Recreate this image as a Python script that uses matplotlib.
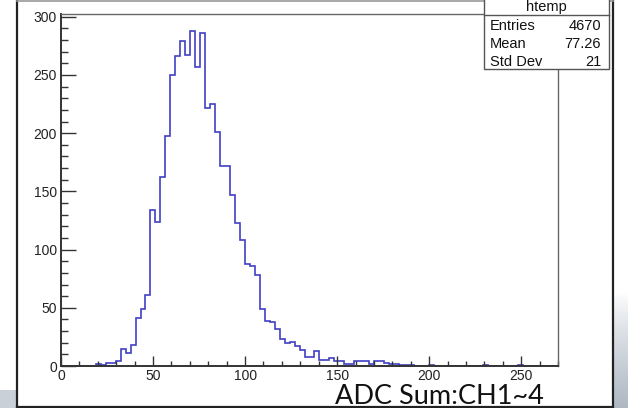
import numpy as np
import matplotlib
matplotlib.use("Agg")
import matplotlib.pyplot as plt
from matplotlib.lines import Line2D
from matplotlib.patches import Rectangle

# histogram contents (100 bins, 0 .. 270)
bin_edges = np.linspace(0, 270, 101)
counts = [0, 0, 0, 0, 0, 0, 0, 2, 1, 3,
          3, 4, 15, 11, 18, 41, 49, 61, 134, 124,
          162, 198, 250, 266, 279, 267, 288, 257, 286, 222,
          225, 201, 172, 172, 147, 123, 108, 88, 86, 78,
          49, 39, 38, 32, 23, 20, 21, 17, 14, 8,
          8, 13, 5, 5, 7, 4, 4, 2, 2, 4,
          4, 4, 2, 4, 4, 3, 2, 2, 1, 1,
          1, 0, 0, 0, 1, 0, 0, 0, 0, 0,
          0, 0, 0, 0, 0, 1, 0, 0, 0, 0,
          0, 0, 1, 0, 0, 0, 0, 0, 0, 0]

x_ticks = [0, 50, 100, 150, 200, 250]
y_ticks = [0, 50, 100, 150, 200, 250, 300]

stats_title = "htemp"
stats_names = ["Entries", "Mean", "Std Dev"]
stats_values = ["4670", "77.26", "21"]
caption = "ADC Sum:CH1~4"

W, H = 628, 408
fig = plt.figure(figsize=(W / 100, H / 100), dpi=100)
fig.patch.set_facecolor("white")

# slide background peeking out at the right edge and bottom-left corner
bg = fig.add_axes([613 / W, 0, 15 / W, 1])
grad = np.linspace(0, 1, 200)[:, None]
grad = np.clip((grad - 0.72) / 0.28, 0, 1) ** 0.8
bg.imshow(grad, aspect="auto", cmap=matplotlib.colors.LinearSegmentedColormap.from_list(
    "slide", ["#ffffff", "#aeb8c4"]), extent=[0, 1, 0, 1], origin="upper")
bg.axis("off")
fig.add_artist(Rectangle((0, 0), 17 / W, 18 / H, transform=fig.transFigure,
                         facecolor="#c9d0d8", edgecolor="none"))

# canvas frame
frame_kw = dict(transform=fig.transFigure, color="#222222", lw=1.6)
fig.add_artist(Line2D([17 / W, 17 / W], [0.5 / H, 1], **frame_kw))
fig.add_artist(Line2D([613 / W, 613 / W], [0.5 / H, 1], **frame_kw))
fig.add_artist(Line2D([17 / W, 613 / W], [1.0 / H, 1.0 / H], **frame_kw))
fig.add_artist(Line2D([17 / W, 613 / W], [1 - 1 / H, 1 - 1 / H],
                      transform=fig.transFigure, color="#999999", lw=1.2))

ax = fig.add_axes([61 / W, (H - 366) / H, (558 - 61) / W, (366 - 14) / H])
ax.stairs(counts, bin_edges, color="#4040c4", lw=1.2)
ax.set_xlim(0, 270)
ax.set_ylim(0, 302.4)

ax.set_xticks(x_ticks)
ax.set_yticks(y_ticks)
ax.set_xticks(np.arange(0, 271, 10), minor=True)
ax.set_yticks(np.arange(0, 302, 10), minor=True)
ax.tick_params(axis="both", which="both", direction="in", color="#333333",
               labelcolor="#222222", labelsize=10, top=False, right=False)
ax.tick_params(axis="x", which="major", length=7.5, width=1, pad=2.5)
ax.tick_params(axis="x", which="minor", length=3.8, width=1)
ax.tick_params(axis="y", which="major", length=10.5, width=1, pad=3)
ax.tick_params(axis="y", which="minor", length=5, width=1)
for lab in ax.get_xticklabels() + ax.get_yticklabels():
    lab.set_family("Liberation Sans")
for side in ["left", "bottom"]:
    ax.spines[side].set_color("#333333")
    ax.spines[side].set_linewidth(1.4)
for side in ["top", "right"]:
    ax.spines[side].set_color("#666666")
    ax.spines[side].set_linewidth(1.0)

# statistics box
bx0, bx1 = 484 / W, 609 / W
by0, by1 = (H - 69) / H, 1.05
fig.add_artist(Rectangle((bx0, by0), bx1 - bx0, by1 - by0, transform=fig.transFigure,
                         facecolor="white", edgecolor="#555555", lw=1.0, zorder=5))
fig.add_artist(Line2D([bx0, bx1], [(H - 15) / H, (H - 15) / H],
                      transform=fig.transFigure, color="#555555", lw=1.0, zorder=6))
fig.text((bx0 + bx1) / 2, (H - 7.5) / H, stats_title, ha="center", va="center",
         fontsize=10.5, family="Liberation Sans", color="#111111", zorder=7)
for i, (name, val) in enumerate(zip(stats_names, stats_values)):
    yy = (H - 26 - 18 * i) / H
    fig.text(490 / W, yy, name, ha="left", va="center", fontsize=10.5,
             family="Liberation Sans", color="#111111", zorder=7)
    fig.text(601 / W, yy, val, ha="right", va="center", fontsize=10.5,
             family="Liberation Sans", color="#111111", zorder=7)

# slide caption under the axis
fig.text(335 / W, 4 / H, caption, ha="left", va="baseline", fontsize=19.5,
         family="Lato", color="#111111")

fig.savefig("out.png", dpi=100)
